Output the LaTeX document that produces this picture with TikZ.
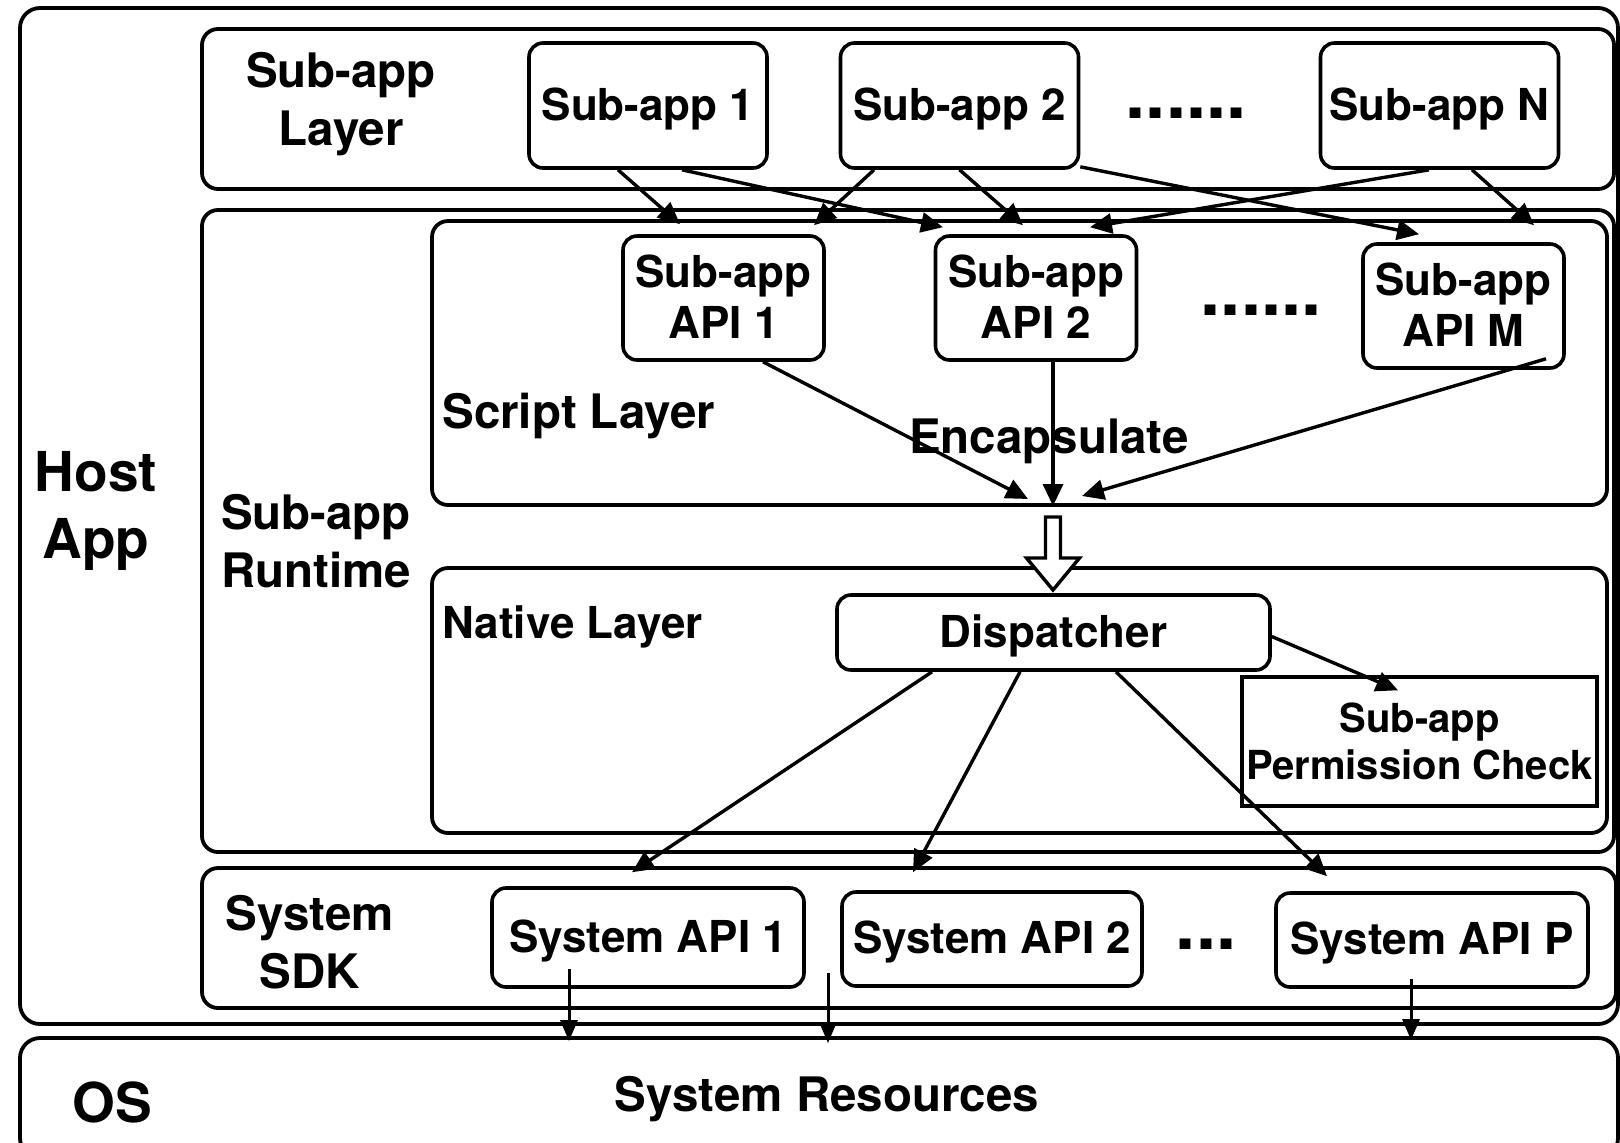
\documentclass[tikz,border=0pt]{standalone}
\usepackage{fontspec}
\setmainfont{TeX Gyre Heros}
\usetikzlibrary{arrows.meta}

\begin{document}
\begin{tikzpicture}[x=1pt, y=-1pt,
    frame/.style={draw, line width=1.9pt, rounded corners=8pt, inner sep=0pt},
    box/.style={draw, line width=1.8pt, rounded corners=7pt, align=center, inner sep=0pt,
        text depth=1.5pt, font=\fontsize{22}{25.3}\selectfont\bfseries},
    check/.style={draw, line width=1.7pt, align=center, inner sep=0pt,
        font=\fontsize{20}{23.5}\selectfont\bfseries},
    lbl/.style={align=center, inner sep=0pt, font=\fontsize{23.75}{29}\selectfont\bfseries},
    big/.style={align=center, inner sep=0pt, font=\fontsize{27.5}{33.5}\selectfont\bfseries},
    dots/.style={inner sep=0pt, font=\fontsize{36}{36}\selectfont\bfseries},
    call/.style={-{Triangle[length=11pt,width=10pt]}, line width=1.7pt},
    sys/.style={-{Triangle[length=10.5pt,width=8.5pt]}, line width=1.5pt}]
    \useasboundingbox (0,0) rectangle (810,571);
    \clip (0,0) rectangle (810,571);

    % layers
    \node[frame, rounded corners=10pt, minimum width=799pt, minimum height=508pt] (host) at (409.5,258) {};
    \node[frame, rounded corners=10pt, minimum width=799pt, minimum height=60pt] (os) at (409.5,549) {};
    \node[frame, minimum width=706pt, minimum height=80pt] (applayer) at (454,54.5) {};
    \node[frame, minimum width=706pt, minimum height=321pt] (runtime) at (454,265.5) {};
    \node[frame, minimum width=587.5pt, minimum height=142pt] (script) at (509.75,181.5) {};
    \node[frame, minimum width=587.5pt, minimum height=132.5pt] (native) at (509.75,350.25) {};
    \node[frame, minimum width=707pt, minimum height=70pt] (sdk) at (454.5,469) {};

    \node[big] (hostlbl) at (48,255.5) {Host\\App};
    \node[big] (oslbl) at (56,551) {OS};
    \node[lbl] (applbl) at (170.5,52) {Sub-app\\Layer};
    \node[lbl] (rtlbl) at (158,270.5) {Sub-app\\Runtime};
    \node[lbl] (sdklbl) at (155,471) {System\\SDK};
    \node[lbl, anchor=west] (scriptlbl) at (221,208) {Script Layer};
    \node[lbl, anchor=west, font=\fontsize{22}{25}\selectfont\bfseries] (nativelbl) at (221,313.5) {Native Layer};
    \node[lbl] (enc) at (524.5,220.5) {Encapsulate};
    \node[lbl] (res) at (413.5,549.5) {System Resources};

    % sub-apps
    \node[box, minimum width=119pt, minimum height=62.5pt] (sa1) at (324,52.75) {Sub-app 1};
    \node[box, minimum width=119pt, minimum height=62.5pt] (sa2) at (479.75,52.75) {Sub-app 2};
    \node[box, minimum width=119pt, minimum height=62.5pt] (saN) at (719.75,52.75) {Sub-app N};
    \node[dots] (sadots) at (593,56.5) {......};

    % sub-app APIs
    \node[box, minimum width=100.5pt, minimum height=62pt] (api1) at (361.75,149) {Sub-app\\API 1};
    \node[box, minimum width=100.5pt, minimum height=62pt] (api2) at (518,149) {Sub-app\\API 2};
    \node[box, minimum width=100.5pt, minimum height=62pt] (apiM) at (731.75,153) {Sub-app\\API M};
    \node[dots] (apidots) at (630.5,155) {......};

    \node[box, minimum width=216.5pt, minimum height=37.5pt] (disp) at (526.75,316.25) {Dispatcher};
    \node[check, minimum width=177.5pt, minimum height=64.5pt] (perm) at (709.75,370.75) {Sub-app\\Permission Check};

    % system APIs
    \node[box, minimum width=156pt, minimum height=49.5pt] (sys1) at (324,468.75) {System API 1};
    \node[box, minimum width=150pt, minimum height=47pt] (sys2) at (496,469.5) {System API 2};
    \node[box, minimum width=156pt, minimum height=47pt] (sysP) at (716,470) {System API P};
    \node[dots] (sysdots) at (603,472) {...};

    \coordinate (merge) at (526.5,253);
    \coordinate (out1) at ([xshift=-39.5pt,yshift=10pt]sys1.south);
    \coordinate (gap) at (414,486.5);
    \coordinate (outP) at ([xshift=-10.5pt,yshift=5pt]sysP.south);

    \draw[call] ([xshift=-15pt]sa1.south) -- ([xshift=-21.75pt,yshift=5pt]api1.north);
    \draw[call] ([xshift=17pt]sa1.south) -- ([xshift=-46.5pt,yshift=3.5pt]api2.north);
    \draw[call] ([xshift=-42.75pt]sa2.south) -- ([xshift=45.25pt,yshift=4.5pt]api1.north);
    \draw[call] (sa2.south) -- ([xshift=-6.5pt,yshift=4.5pt]api2.north);
    \draw[call] ([yshift=1.5pt]sa2.south east) -- ([xshift=-22.25pt,yshift=4pt]apiM.north);
    \draw[call] ([xshift=-5.25pt]saN.south) -- ([xshift=27pt,yshift=3.5pt]api2.north);
    \draw[call] ([xshift=16.25pt]saN.south) -- ([xshift=35.25pt,yshift=8.5pt]apiM.north);

    \draw[call] ([xshift=19.75pt]api1.south) -- ([xshift=-12.5pt,yshift=3.5pt]merge);
    \draw[call] (api2.south -| merge) -- (merge);
    \draw[call] ([xshift=41.25pt,yshift=5.5pt]apiM.south) -- ([xshift=14.5pt,yshift=5pt]merge);

    % encapsulated calls go down to the dispatcher
    \draw[line width=1.7pt, fill=white] ([xshift=-3.75pt,yshift=-5.5pt]merge) -- ++(0,20.5) -- ++(-9.5,0)
        -- ++(13.25,16) -- ++(13.25,-16) -- ++(-9.5,0) -- ++(0,-20.5) -- cycle;

    \draw[call] ([yshift=-2pt]disp.east) -- ([xshift=-10.75pt,yshift=-7.5pt]perm.north);
    \draw[call] ([xshift=-60.75pt]disp.south) -- ([xshift=-8pt,yshift=7pt]sys1.north);
    \draw[call] ([xshift=-16.75pt]disp.south) -- ([xshift=-39.5pt,yshift=9pt]sys2.north);
    \draw[call] ([xshift=31.25pt]disp.south) -- ([xshift=-52.5pt,yshift=7.5pt]sysP.north);

    \draw[sys, shorten >=-2.5pt] (out1) -- (out1 |- os.north);
    \draw[sys, shorten >=-3.5pt] (gap) -- (gap |- os.north);
    \draw[sys, shorten >=-2pt] (outP) -- (outP |- os.north);
\end{tikzpicture}
\end{document}
